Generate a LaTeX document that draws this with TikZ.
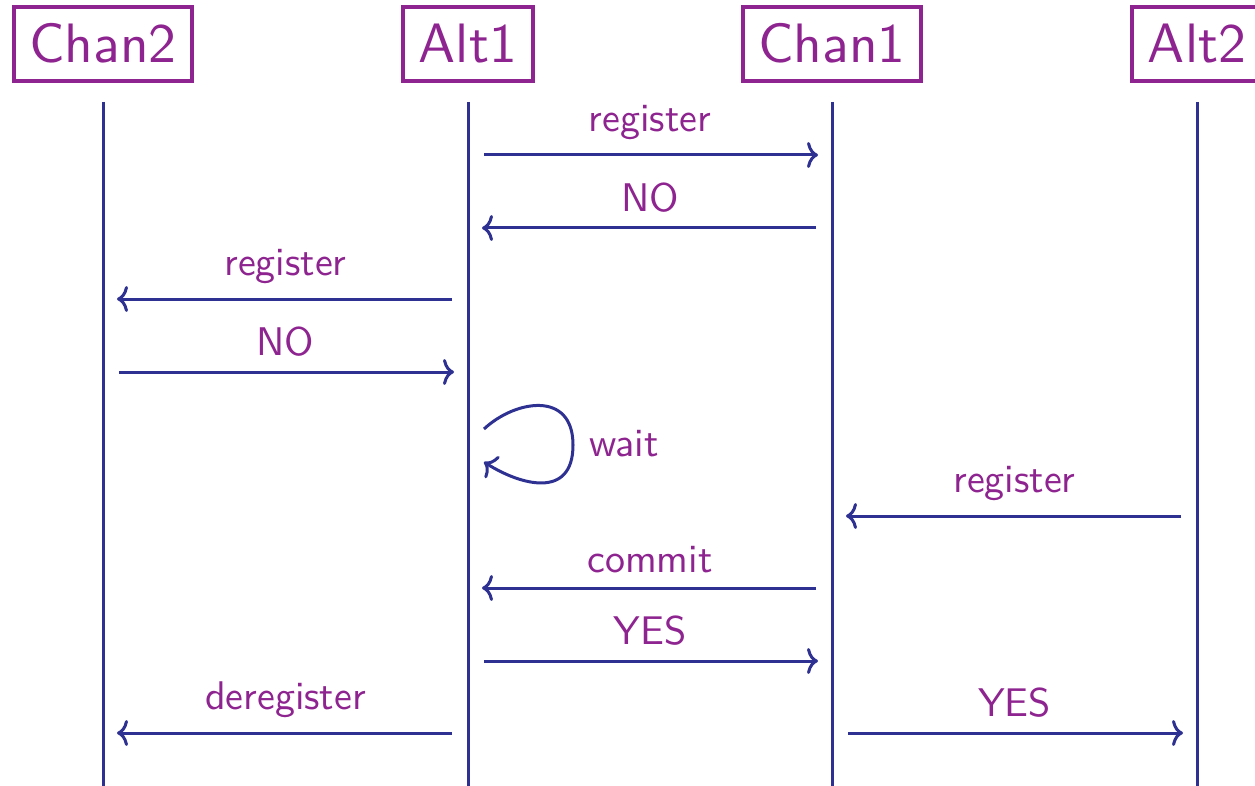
\documentclass[tikz,border=0pt]{standalone}
\usepackage{fontspec}
\usetikzlibrary{arrows.meta}
\newfontfamily\diagsans{lmsans10-regular}[Extension=.otf]
\definecolor{lbl}{HTML}{8E2490}
\definecolor{ln}{HTML}{2E3192}
\begin{document}
\begin{tikzpicture}[x=1pt,y=-1pt,
  head/.style={draw=lbl, text=lbl, line width=4pt,
    font=\diagsans\fontsize{55.5}{60}\selectfont,
    inner xsep=15.5pt, inner ysep=0pt, text height=38pt, text depth=0pt,
    minimum height=74pt},
  life/.style={draw=ln, line width=3pt},
  msg/.style={draw=ln, line width=3pt, -{To[length=11pt,width=26pt]},
    shorten <=16pt, shorten >=14pt},
  lab/.style={text=lbl, font=\diagsans\fontsize{40}{48}\selectfont,
    inner sep=0pt},
  over/.style={lab, midway, above=14pt}]
\useasboundingbox (0,0) rectangle (1255,786);

% participants
\node[head] (chan2) at (103,44) {Chan2};
\node[head] (alt1)  at (468,44) {Alt1};
\node[head] (chan1) at (832,44) {Chan1};
\node[head] (alt2)  at (1197,44) {Alt2};

% lifelines
\foreach \p in {chan2,alt1,chan1,alt2}
  \draw[life] ([yshift=-19pt]\p.south) -- (\p |- 0,790);

% messages
\draw[msg] (alt1 |- 0,155) -- (chan1 |- 0,155) node[over] {register};
\draw[msg] (chan1 |- 0,228) -- (alt1 |- 0,228) node[over] {NO};
\draw[msg] (alt1 |- 0,299) -- (chan2 |- 0,299) node[over] {register};
\draw[msg] (chan2 |- 0,372) -- (alt1 |- 0,372) node[over] {NO};

% self loop on Alt1
\coordinate (w1) at ([xshift=16pt]alt1 |- 0,429);
\coordinate (w2) at ([xshift=16pt]alt1 |- 0,462);
\draw[draw=ln, line width=3pt, -{To[length=11pt,width=26pt]}]
  (w1) .. controls (515,400) and (573,390) .. (573,445)
       .. controls (573,500) and (520,485) .. (w2);
\node[lab, anchor=base west] (wait) at (589,456) {wait};

\draw[msg] (alt2 |- 0,516) -- (chan1 |- 0,516) node[over] {register};
\draw[msg] (chan1 |- 0,588) -- (alt1 |- 0,588) node[over] {commit};
\draw[msg] (alt1 |- 0,661) -- (chan1 |- 0,661) node[over] {YES};
\draw[msg] (alt1 |- 0,733) -- (chan2 |- 0,733) node[over] {deregister};
\draw[msg] (chan1 |- 0,733) -- (alt2 |- 0,733) node[over] {YES};
\end{tikzpicture}
\end{document}
